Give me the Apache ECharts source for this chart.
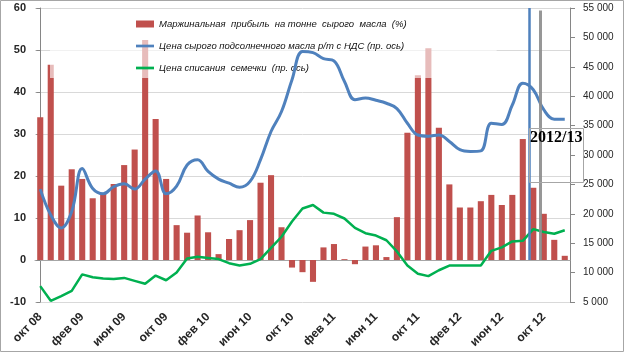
<!DOCTYPE html>
<html>
<head>
<meta charset="utf-8">
<script src="https://cdn.jsdelivr.net/npm/echarts@6/dist/echarts.min.js"></script>
<style>
  html, body { margin: 0; padding: 0; background: #fff; }
  #chart { width: 624px; height: 352px; }
</style>
</head>
<body>
<div id="chart"></div>
<script>
const months = [
  "окт 08", "ноя 08", "дек 08",
  "янв 09", "фев 09", "мар 09", "апр 09", "май 09", "июн 09", "июл 09", "авг 09", "сен 09", "окт 09", "ноя 09", "дек 09",
  "янв 10", "фев 10", "мар 10", "апр 10", "май 10", "июн 10", "июл 10", "авг 10", "сен 10", "окт 10", "ноя 10", "дек 10",
  "янв 11", "фев 11", "мар 11", "апр 11", "май 11", "июн 11", "июл 11", "авг 11", "сен 11", "окт 11", "ноя 11", "дек 11",
  "янв 12", "фев 12", "мар 12", "апр 12", "май 12", "июн 12", "июл 12", "авг 12", "сен 12", "окт 12", "ноя 12", "дек 12"
]

// маржа, %
const margin = [
  34.0, 46.5, 17.7, 21.6, 19.3, 14.7, 15.9, 18.1, 22.6, 26.3, 52.4, 33.6, 19.3, 8.3, 6.5, 10.6, 6.6,
  1.4, 5.0, 7.1, 9.5, 18.4, 20.2, 7.8, -1.8, -2.9, -5.2, 3.0, 3.8, 0.2, -1.0, 3.2, 3.5, 0.7,
  10.2, 30.3, 44.0, 50.4, 31.5, 18.0, 12.5, 12.5, 14.0, 15.5, 13.1, 15.5, 28.8, 17.2, 11.0, 4.8, 1.0
]

// цена масла, руб/т
const oilPrice = [
  24200, 19800, 17600, 20400, 27700, 24300, 23400, 24600, 25100, 24200, 25900, 27300, 23400, 24700, 28300, 29200, 27200,
  25900, 25200, 24500, 25500, 29200, 34000, 37400, 42800, 47600, 47400, 46400, 46000, 42500, 39400, 39700, 39300, 38800,
  37900, 35400, 33400, 33200, 33400, 32300, 30900, 30600, 30700, 35400, 35200, 38500, 42200, 41100, 37700, 36100, 36100
]

// цена семечки, руб/т
const seedPrice = [
  7700, 5200, 6000, 6900, 9700, 9200, 9000, 8900, 9100, 8600, 8100, 9500, 8700, 10000, 12400, 12700, 12500,
  12300, 11600, 11200, 11500, 12300, 14200, 16100, 18700, 20900, 21500, 20200, 20000, 19200, 17600, 16700, 16300, 15500,
  13600, 11200, 9800, 9400, 10400, 11200, 11200, 11200, 11200, 13700, 14300, 15300, 15400, 17400, 16900, 16600, 17200
]

// вертикальные отметки (позиция в месяцах от окт 08)
const seasonMarks = [46.65, 47.7]

const names = [
  "Маржинальная  прибыль  на тонне  сырого  масла  (%)",
  "Цена сырого подсолнечного масла р/т с НДС (пр. ось)",
  "Цена списания  семечки  (пр. ось)"
]

const lineIcon = "path://M0,0L20,0L20,3L0,3Z"

const chart = echarts.init(document.getElementById("chart"))

chart.setOption({
  animation: false,
  textStyle: { fontFamily: "Liberation Sans" },
  grid: { left: 35, right: 54, top: 8, bottom: 50 },
  legend: {
    orient: "vertical",
    left: 50,
    top: 10,
    padding: [9, 90, 5, 86],
    itemGap: 12,
    itemWidth: 18,
    itemHeight: 7,
    backgroundColor: "rgba(255,255,255,0.62)",
    textStyle: { fontSize: 9.5, fontStyle: "italic", color: "#111" },
    data: [
      { name: names[0], icon: "rect" },
      { name: names[1], icon: lineIcon },
      { name: names[2], icon: lineIcon },
    ],
  },
  xAxis: [
    {
      type: "category",
      data: months,
      position: "bottom",
      axisLine: { show: false, onZero: false },
      axisTick: { show: false },
      axisLabel: { interval: 3, rotate: 45, margin: 13, fontSize: 12, fontWeight: "bold", color: "#262626" },
    },
    {
      type: "category",
      data: months,
      position: "top",
      axisLine: { onZero: true, onZeroAxisIndex: 0, lineStyle: { color: "#a6a6a6" } },
      axisTick: { interval: 0, inside: true, length: 4, lineStyle: { color: "#a6a6a6" } },
      axisLabel: { show: false },
    },
    { type: "value", min: -0.5, max: 50.5, show: false },
  ],
  yAxis: [
    {
      type: "value",
      min: -10,
      max: 60,
      interval: 10,
      axisLine: { show: true, lineStyle: { color: "#868686" } },
      axisTick: { show: true, length: 4, lineStyle: { color: "#868686" } },
      axisLabel: { margin: 9, fontSize: 11, fontWeight: "bold", color: "#262626" },
      splitLine: { lineStyle: { color: "#d9d9d9" } },
    },
    {
      type: "value",
      position: "right",
      min: 5000,
      max: 55000,
      interval: 5000,
      axisLine: { show: true, lineStyle: { color: "#868686" } },
      axisTick: { show: true, length: 5, lineStyle: { color: "#868686" } },
      axisLabel: {
        margin: 13,
        fontSize: 10,
        color: "#262626",
        formatter: (v) => String(v).replace(/\B(?=(\d{3})+(?!\d))/g, " "),
      },
      splitLine: { show: false },
    },
  ],
  series: [
    {
      name: names[0],
      type: "bar",
      data: margin,
      xAxisIndex: 0,
      yAxisIndex: 0,
      barCategoryGap: "42%",
      itemStyle: { color: "#c0504d" },
      z: 2,
    },
    {
      name: names[1],
      type: "line",
      data: oilPrice,
      xAxisIndex: 0,
      yAxisIndex: 1,
      smooth: 0.4,
      symbol: "none",
      lineStyle: { color: "#4f81bd", width: 3 },
      itemStyle: { color: "#4f81bd" },
      z: 4,
    },
    {
      name: names[2],
      type: "line",
      data: seedPrice,
      xAxisIndex: 0,
      yAxisIndex: 1,
      symbol: "none",
      lineStyle: { color: "#00b050", width: 2.5 },
      itemStyle: { color: "#00b050" },
      z: 3,
    },
    {
      type: "line",
      data: [],
      xAxisIndex: 2,
      yAxisIndex: 0,
      silent: true,
      z: 5,
      markLine: {
        symbol: ["none", "none"],
        silent: true,
        label: { show: false },
        data: [
          [
            { coord: [seasonMarks[0], 60], lineStyle: { color: "#4f81bd", width: 2.5, type: "solid" } },
            { coord: [seasonMarks[0], 0] },
          ],
          [
            { coord: [seasonMarks[1], 59.4], lineStyle: { color: "#8c8c8c", width: 3, type: "solid", opacity: 0.9 } },
            { coord: [seasonMarks[1], 0] },
          ],
        ],
      },
    },
  ],
  graphic: [
    {
      type: "rect",
      shape: { x: 0.5, y: 0.5, width: 623, height: 351 },
      style: { fill: "none", stroke: "#a6a6a6", lineWidth: 1 },
      silent: true,
    },
    {
      type: "rect",
      shape: { x: 529.5, y: 128.5, width: 54, height: 54 },
      style: { fill: "none", stroke: "#a6a6a6", lineWidth: 1 },
      silent: true,
      z: 10,
    },
    {
      type: "text",
      left: 530,
      top: 130,
      style: { text: "2012/13", font: "bold 16px 'Liberation Serif'", fill: "#000" },
      silent: true,
      z: 11,
    },
  ],
})
</script>
</body>
</html>
